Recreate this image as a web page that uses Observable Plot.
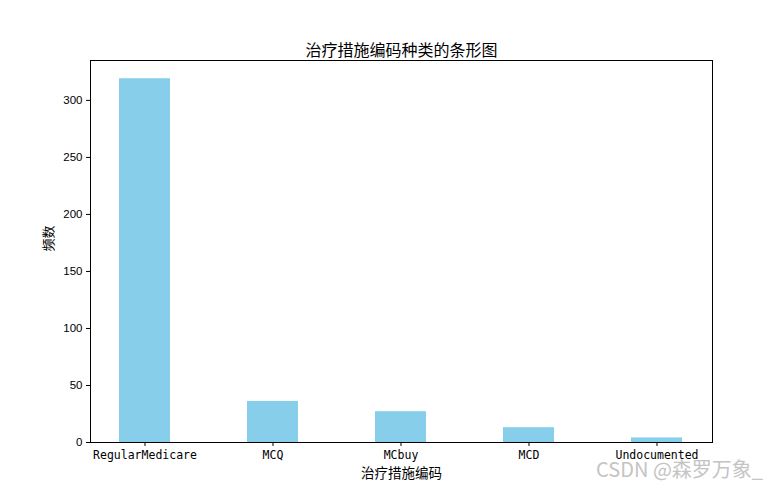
<!DOCTYPE html>
<html><head><meta charset="utf-8">
<script src="https://cdn.jsdelivr.net/npm/d3@7"></script>
<script src="https://cdn.jsdelivr.net/npm/@observablehq/plot@0.6"></script>
<style>
body{margin:0;background:#fff;}
#wrap{position:relative;width:783px;height:490px;}
#wm{position:absolute;right:20px;top:455px;font-family:"Noto Sans CJK SC","DejaVu Sans",sans-serif;font-size:20px;line-height:28px;color:#c4c4c4;white-space:nowrap;}
</style></head>
<body><div id="wrap"><div id="wm">CSDN @森罗万象_</div></div>
<script>
const categories = ["RegularMedicare","MCQ","MCbuy","MCD","Undocumented"];
const counts = [319, 36, 27, 13, 4];
const yTicks = [0,50,100,150,200,250,300];
const title = "治疗措施编码种类的条形图";
const xLabel = "治疗措施编码";
const yLabel = "频数";

const data = categories.map((c,i)=>({cat:c, n:counts[i]}));
const cjk = '"Noto Sans CJK SC", sans-serif';

const chart = Plot.plot({
  width: 783, height: 490,
  marginLeft: 90, marginRight: 71, marginTop: 60, marginBottom: 48,
  style: {fontFamily: cjk, fontSize: "12px", color: "#000", background: "#fff"},
  x: {domain: categories, paddingInner: 0.6, paddingOuter: 0.22, label: null},
  y: {domain: [0, 335], label: null},
  marks: [
    Plot.barY(data, {x: "cat", y: "n", fill: "#87CEEB"}),
    Plot.frame({stroke: "#000", strokeWidth: 1}),
    Plot.axisX({tickSize: 4, tickPadding: 4, fontFamily: '"DejaVu Sans Mono", monospace', fontSize: 11.5, label: null}),
    Plot.axisY({ticks: yTicks, tickSize: 4, tickPadding: 4, fontFamily: '"Liberation Sans", Arial, sans-serif', fontSize: 11.5, label: null}),
    Plot.text([title], {frameAnchor: "top", dy: -16, fontSize: 16, fontFamily: cjk}),
    Plot.text([xLabel], {frameAnchor: "bottom", dy: 35, fontSize: 13.5, fontFamily: cjk}),
    Plot.text([yLabel], {frameAnchor: "left", dx: -42, rotate: -90, fontSize: 13, fontFamily: cjk})
  ]
});
document.getElementById("wrap").prepend(chart);
</script>
</body></html>
